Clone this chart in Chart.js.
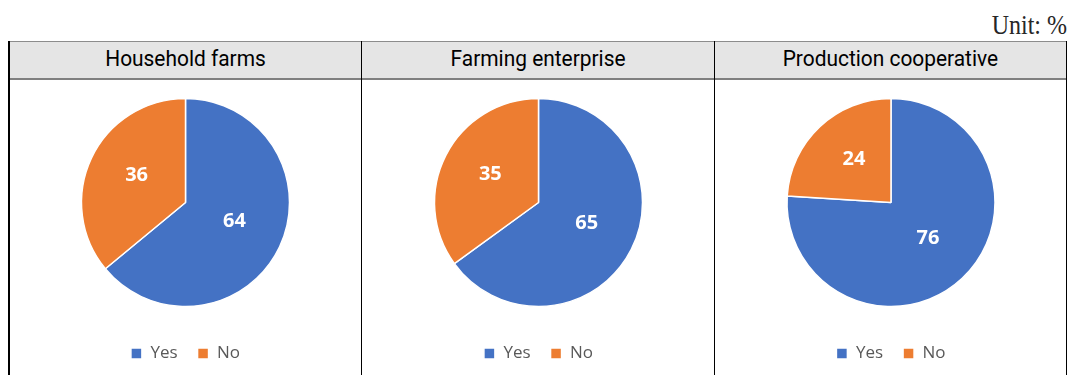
<!DOCTYPE html>
<html>
<head>
<meta charset="utf-8">
<script src="https://cdn.jsdelivr.net/npm/chart.js@4.4.0/dist/chart.umd.min.js"></script>
<style>
  body { margin: 0; width: 1071px; height: 375px; overflow: hidden; position: relative; background: #fff; }
  #unit { position: absolute; right: 4px; top: 11px; font: 24px "Liberation Serif", serif; color: #262626;
          transform: scaleY(1.1); transform-origin: right top; }
  .line { position: absolute; }
  .head { position: absolute; top: 42px; height: 36px; line-height: 36px; overflow: hidden; text-align: center;
          font: 400 22px Roboto, "Liberation Sans", sans-serif; color: #000; background: #e5e5e5; }
  .head span { display: inline-block; position: relative; top: 4px; transform: scaleX(0.95); }
  .cell { position: absolute; top: 80px; height: 295px; }
</style>
</head>
<body>
<div id="unit">Unit: %</div>
<div id="frame"></div>

<script>
// Datos de las tres gráficas
const panels = ['Household farms', 'Farming enterprise', 'Production cooperative'];
const answers = ['Yes', 'No'];
const yesShare = [64, 65, 76];
const noShare = [36, 35, 24];
const sliceColors = ['#4472C4', '#ED7D31'];

// Columnas de la tabla (borde izquierdo, ancho)
const columns = [[9, 352], [362, 352], [715, 351]];

const frame = document.getElementById('frame');

function addLine(left, top, width, height, color) {
    const d = document.createElement('div');
    d.className = 'line';
    d.style.cssText = `left:${left}px;top:${top}px;width:${width}px;height:${height}px;background:${color}`;
    frame.appendChild(d);
}

// Encabezados
columns.forEach(([left, width], i) => {
    const h = document.createElement('div');
    h.className = 'head';
    h.style.left = left + 'px';
    h.style.width = width + 'px';
    h.innerHTML = `<span>${panels[i]}</span>`;
    frame.appendChild(h);
});

// Bordes de la tabla
addLine(8, 41, 1059, 1, '#8c8c8c');
addLine(8, 78, 1059, 2, '#808080');
addLine(8, 41, 2, 334, '#000');
addLine(361, 41, 1, 334, '#000');
addLine(714, 41, 1, 334, '#000');
addLine(1066, 41, 1, 334, '#000');

// Etiquetas de valor dentro de cada porción
const sliceLabels = {
    id: 'sliceLabels',
    afterDatasetsDraw(chart) {
        const ctx = chart.ctx;
        const values = chart.data.datasets[0].data;
        ctx.save();
        ctx.fillStyle = '#fff';
        ctx.font = 'bold 20px "Open Sans", sans-serif';
        ctx.textAlign = 'center';
        ctx.textBaseline = 'middle';
        chart.getDatasetMeta(0).data.forEach((arc, i) => {
            const p = arc.getProps(['x', 'y', 'startAngle', 'endAngle', 'outerRadius'], true);
            const mid = (p.startAngle + p.endAngle) / 2;
            const r = p.outerRadius * 0.52;
            ctx.fillText(values[i], p.x + Math.cos(mid) * r, p.y + Math.sin(mid) * r - 4);
        });
        ctx.restore();
    }
};

function createSharePie(ctx, values) {
    return new Chart(ctx, {
        type: 'pie',
        data: {
            labels: answers,
            datasets: [{
                data: values,
                backgroundColor: sliceColors,
                borderColor: '#fff',
                borderWidth: 1.5,
                radius: 104
            }]
        },
        options: {
            responsive: true,
            maintainAspectRatio: false,
            animation: false,
            events: [],
            layout: { padding: { top: 0, bottom: 3 } },
            plugins: {
                tooltip: { enabled: false },
                legend: {
                    position: 'bottom',
                    labels: {
                        boxWidth: 11,
                        boxHeight: 11,
                        padding: 20,
                        color: '#595959',
                        font: { family: '"Open Sans", sans-serif', size: 17 }
                    }
                }
            }
        },
        plugins: [sliceLabels]
    });
}

columns.forEach(([left, width], i) => {
    const cell = document.createElement('div');
    cell.className = 'cell';
    cell.style.left = (left + 1) + 'px';
    cell.style.width = (width - 1) + 'px';
    const canvas = document.createElement('canvas');
    cell.appendChild(canvas);
    frame.appendChild(cell);
    createSharePie(canvas, [yesShare[i], noShare[i]]);
});
</script>
</body>
</html>
